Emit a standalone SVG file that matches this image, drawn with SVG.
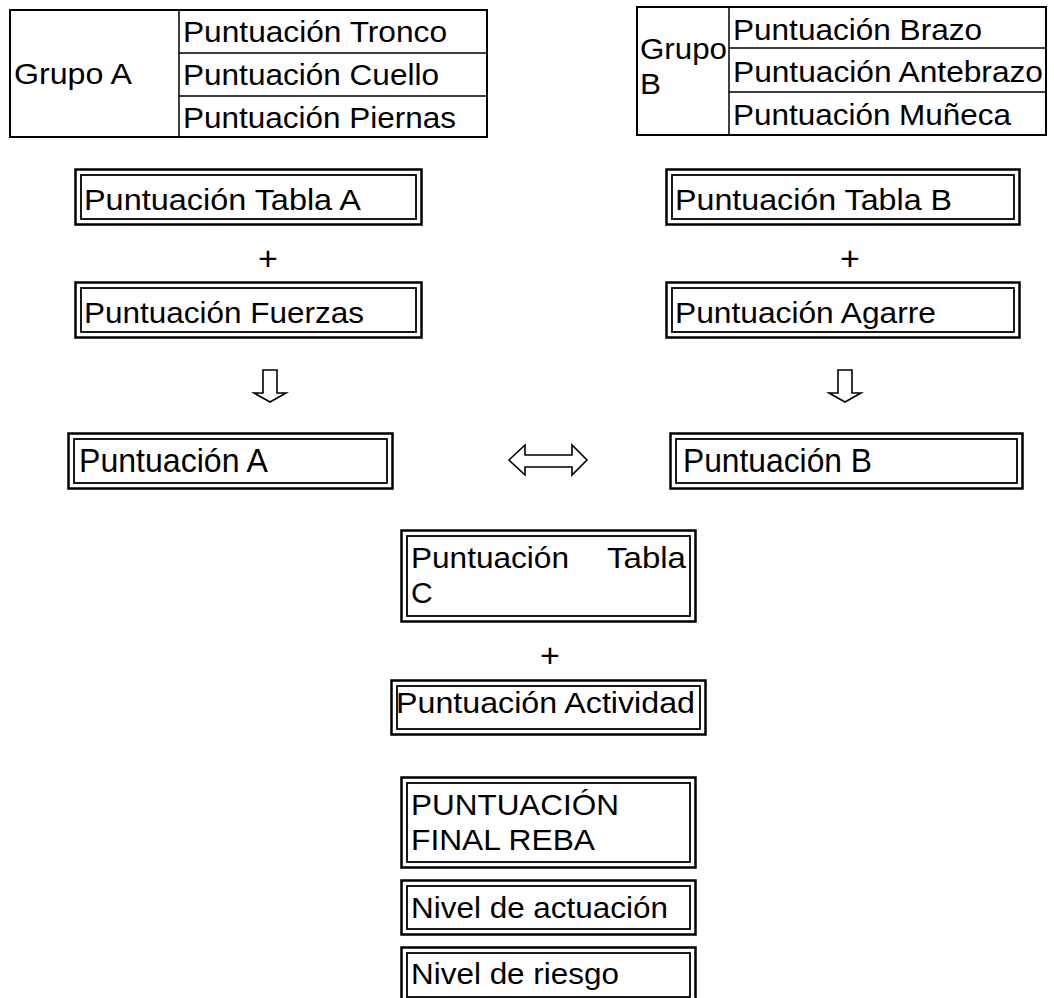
<svg xmlns="http://www.w3.org/2000/svg" width="1054" height="998" viewBox="0 0 1054 998">
<style>
text{font-family:"Liberation Sans",Arial,sans-serif;font-size:30px;fill:#000}
.big{font-size:33px}
.tb{fill:none;stroke:#000;stroke-width:2}
.tl{stroke:#000;stroke-width:1.5}
.o{fill:#fff;stroke:#000;stroke-width:2.5}
.i{fill:none;stroke:#000;stroke-width:1.8}
.ar{fill:#fff;stroke:#000;stroke-width:1.6;stroke-linejoin:miter}
.pl{text-anchor:middle;font-size:34px}
</style>
<rect width="1054" height="998" fill="#fff"/>
<g id="grupoA">
<rect class="tb" x="10" y="10" width="477" height="127"/>
<line class="tl" x1="179" y1="10" x2="179" y2="137"/>
<line class="tl" x1="179" y1="53" x2="487" y2="53"/>
<line class="tl" x1="179" y1="96" x2="487" y2="96"/>
<text x="14" y="84" textLength="118" lengthAdjust="spacingAndGlyphs">Grupo A</text>
<text x="183" y="42" textLength="264" lengthAdjust="spacingAndGlyphs">Puntuación Tronco</text>
<text x="183" y="85" textLength="256" lengthAdjust="spacingAndGlyphs">Puntuación Cuello</text>
<text x="183" y="128" textLength="273" lengthAdjust="spacingAndGlyphs">Puntuación Piernas</text>
</g>
<g id="grupoB">
<rect class="tb" x="637" y="7" width="409" height="128"/>
<line class="tl" x1="729" y1="7" x2="729" y2="135"/>
<line class="tl" x1="729" y1="48" x2="1046" y2="48"/>
<line class="tl" x1="729" y1="92" x2="1046" y2="92"/>
<text x="640" y="59" textLength="87" lengthAdjust="spacingAndGlyphs">Grupo</text>
<text x="640" y="94" textLength="21" lengthAdjust="spacingAndGlyphs">B</text>
<text x="733" y="40" textLength="249" lengthAdjust="spacingAndGlyphs">Puntuación Brazo</text>
<text x="733" y="82" textLength="310" lengthAdjust="spacingAndGlyphs">Puntuación Antebrazo</text>
<text x="733" y="125" textLength="278" lengthAdjust="spacingAndGlyphs">Puntuación Muñeca</text>
</g>
<g id="tablaA">
<rect class="o" x="75.5" y="169.5" width="346" height="55"/>
<rect class="i" x="81" y="175" width="335" height="44"/>
<text x="84" y="210" textLength="277" lengthAdjust="spacingAndGlyphs">Puntuación Tabla A</text>
</g>
<g id="fuerzas">
<rect class="o" x="75.5" y="282.5" width="346" height="55"/>
<rect class="i" x="81" y="288" width="335" height="44"/>
<text x="84" y="323" textLength="280" lengthAdjust="spacingAndGlyphs">Puntuación Fuerzas</text>
</g>
<g id="tablaB">
<rect class="o" x="666.5" y="169.5" width="353" height="55"/>
<rect class="i" x="672" y="175" width="342" height="44"/>
<text x="675" y="210" textLength="277" lengthAdjust="spacingAndGlyphs">Puntuación Tabla B</text>
</g>
<g id="agarre">
<rect class="o" x="666.5" y="282.5" width="353" height="55"/>
<rect class="i" x="672" y="288" width="342" height="44"/>
<text x="675" y="323" textLength="261" lengthAdjust="spacingAndGlyphs">Puntuación Agarre</text>
</g>
<g id="puntA">
<rect class="o" x="68.5" y="433.5" width="324" height="55"/>
<rect class="i" x="74" y="439" width="313" height="44"/>
<text class="big" x="79" y="472" textLength="189" lengthAdjust="spacingAndGlyphs">Puntuación A</text>
</g>
<g id="puntB">
<rect class="o" x="670.5" y="433.5" width="352" height="55"/>
<rect class="i" x="676" y="439" width="341" height="44"/>
<text class="big" x="683" y="472" textLength="189" lengthAdjust="spacingAndGlyphs">Puntuación B</text>
</g>
<g id="tablaC">
<rect class="o" x="401.5" y="530.5" width="294" height="91"/>
<rect class="i" x="407" y="536" width="283" height="80"/>
<text x="411" y="568" textLength="158" lengthAdjust="spacingAndGlyphs">Puntuación</text>
<text x="607" y="568" textLength="79" lengthAdjust="spacingAndGlyphs">Tabla</text>
<text x="411" y="603">C</text>
</g>
<g id="actividad">
<rect class="o" x="391.5" y="680.5" width="314" height="54"/>
<rect class="i" x="397" y="686" width="303" height="43"/>
<text x="396" y="713" textLength="299" lengthAdjust="spacingAndGlyphs">Puntuación Actividad</text>
</g>
<g id="final">
<rect class="o" x="401.5" y="777.5" width="294" height="90"/>
<rect class="i" x="407" y="783" width="283" height="79"/>
<text x="411" y="815" textLength="208" lengthAdjust="spacingAndGlyphs">PUNTUACIÓN</text>
<text x="411" y="850" textLength="184" lengthAdjust="spacingAndGlyphs">FINAL REBA</text>
</g>
<g id="actuacion">
<rect class="o" x="401.5" y="880.5" width="294" height="54"/>
<rect class="i" x="407" y="886" width="283" height="43"/>
<text x="411" y="918" textLength="257" lengthAdjust="spacingAndGlyphs">Nivel de actuación</text>
</g>
<g id="riesgo">
<rect class="o" x="401.5" y="947.5" width="294" height="56"/>
<rect class="i" x="407" y="953" width="283" height="44"/>
<text x="411" y="984" textLength="208" lengthAdjust="spacingAndGlyphs">Nivel de riesgo</text>
</g>
<g id="connectors">
<text class="pl" x="268" y="270">+</text>
<text class="pl" x="850" y="270">+</text>
<text class="pl" x="550" y="667">+</text>
<path class="ar" d="M263,370 H277 V393 H286 L270,402 L254,393 H263 Z"/>
<path class="ar" d="M838,370 H852 V393 H861 L845,402 L829,393 H838 Z"/>
<path class="ar" d="M509,460 L525,445 V455 H572 V445 L587,460 L572,475 V467 H525 V475 Z"/>
</g>
</svg>
